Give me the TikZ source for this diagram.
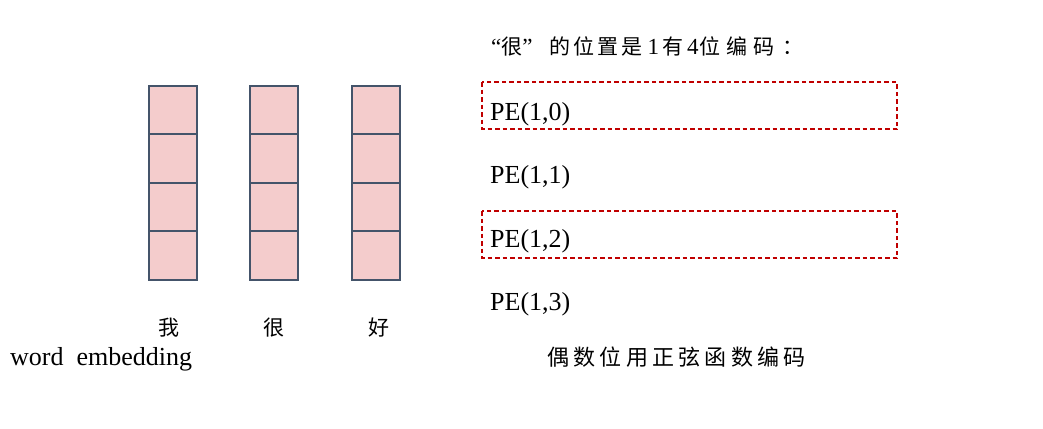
\documentclass[tikz,border=0pt]{standalone}
\usepackage{fontspec}
\setmainfont{Liberation Serif}
\newfontfamily\cjk{Noto Sans CJK SC}
\definecolor{cellfill}{HTML}{F4CCCC}
\definecolor{cellline}{HTML}{44546A}
\definecolor{boxred}{HTML}{C00000}
\newcommand{\gs}{\hskip3pt}
\newcommand{\gw}{\hskip6pt}
\newcommand{\gc}{\hskip4.3pt}
\newcommand{\tc}{\cjk\fontsize{21}{21}\selectfont}
\tikzset{
  cell/.style={fill=cellfill, minimum width=48pt, inner sep=0pt, outer sep=0pt},
  cellrule/.style={draw=cellline, line width=1.3pt},
  pebox/.style={draw=boxred, line width=1.6pt, dash pattern=on 4.5pt off 3pt},
  petext/.style={font=\fontsize{26}{26}\selectfont, anchor=base west, inner sep=0pt},
  cjktext/.style={font=\cjk\fontsize{21}{21}\selectfont, inner sep=0pt},
}
\begin{document}
\begin{tikzpicture}[x=1pt,y=-1pt]
\useasboundingbox (0,0) rectangle (1043,428);
% columns
\foreach \c/\x in {a/173,b/274,c/376}{
  \foreach \r/\y/\h in {1/110/48,2/158.5/49,3/207/48,4/255.5/49}{
    \node[cell, minimum height=\h pt] (\c\r) at (\x,\y) {};
  }
  \draw[cellrule] (\c1.north west) rectangle (\c4.south east);
  \foreach \r in {1,2,3}{
    \draw[cellrule] (\c\r.south west) -- (\c\r.south east);
  }
}
% labels under columns
\node[cjktext] (w1) at (169,328) {我};
\node[cjktext] (w2) at (274,328) {很};
\node[cjktext] (w3) at (379,328) {好};
\node[font=\fontsize{26}{26}\selectfont, anchor=base west, inner sep=0pt] (we) at (10,365) {word\ \ embedding};
% title
\node[anchor=base west, inner sep=0pt, font=\fontsize{23}{23}\selectfont] (title) at (491,55) {“{\tc 很}”\hskip17pt{\tc 的\gs 位\gs 置\gs 是}\hskip5pt 1\hskip3pt{\tc 有}\hskip4pt 4\hskip1pt{\tc 位\gw 编\gw 码\hskip8pt ：}};
% dashed boxes
\draw[pebox] (482,82) rectangle (897,129);
\draw[pebox] (482,211) rectangle (897,258);
% PE texts
\node[petext] (pe0) at (490,120) {PE(1,0)};
\node[petext] (pe1) at (490,183.5) {PE(1,1)};
\node[petext] (pe2) at (490,247) {PE(1,2)};
\node[petext] (pe3) at (490,310.5) {PE(1,3)};
% bottom caption
\node[cjktext, anchor=west, font=\cjk\fontsize{22}{22}\selectfont] (cap) at (547,357) {偶\gc 数\gc 位\gc 用\gc 正\gc 弦\gc 函\gc 数\gc 编\gc 码};
\end{tikzpicture}
\end{document}
